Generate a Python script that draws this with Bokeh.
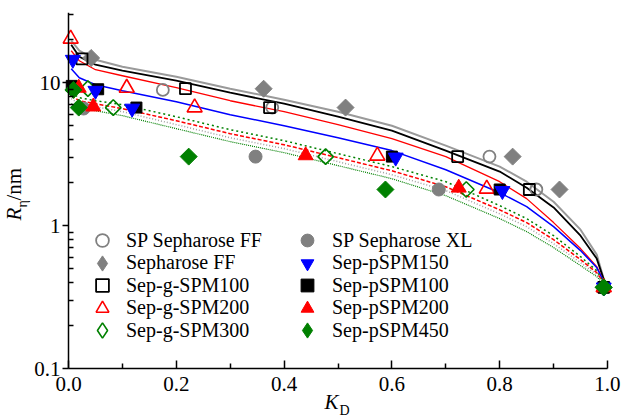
import math
from bokeh.plotting import figure
from bokeh.models import (Range1d, FixedTicker, NumeralTickFormatter, CustomJSTickFormatter,
                          Legend, LegendItem, Label)
from bokeh.embed import file_html
from bokeh.resources import INLINE

# ---------------- data ----------------
KD_SP_FF = [0.175, 0.378, 0.781, 0.868, 0.993]
R_SP_FF = [8.9, 6.7, 3.04, 1.79, 0.37]

KD_SEPH_FF = [0.042, 0.362, 0.514, 0.824, 0.911, 0.993]
R_SEPH_FF = [14.9, 9.08, 6.7, 3.04, 1.79, 0.37]

KD_G100 = [0.025, 0.217, 0.373, 0.722, 0.855, 0.993]
R_G100 = [14.7, 9.08, 6.7, 3.04, 1.79, 0.37]

KD_G200 = [0.004, 0.108, 0.234, 0.573, 0.776, 0.993]
R_G200 = [20.3, 9.2, 6.7, 3.08, 1.81, 0.37]

KD_G300 = [0.036, 0.083, 0.477, 0.738, 0.993]
R_G300 = [9.1, 6.7, 3.04, 1.79, 0.37]

KD_XL = [0.028, 0.347, 0.687, 0.993]
R_XL = [6.6, 3.04, 1.79, 0.37]

KD_P150 = [0.008, 0.05, 0.118, 0.607, 0.805, 0.993]
R_P150 = [14.5, 8.8, 6.6, 3.0, 1.75, 0.37]

KD_P100 = [0.006, 0.055, 0.126, 0.6, 0.8, 0.993]
R_P100 = [9.5, 9.0, 6.7, 3.04, 1.79, 0.37]

KD_P200 = [0.019, 0.046, 0.44, 0.724, 0.993]
R_P200 = [9.2, 6.8, 3.1, 1.84, 0.37]

KD_P450 = [0.009, 0.019, 0.223, 0.588, 0.993]
R_P450 = [8.9, 6.7, 3.04, 1.79, 0.37]

# fitted curves
K_FIT = [0.005, 0.02, 0.05, 0.1, 0.2, 0.3, 0.4, 0.5, 0.6, 0.7, 0.8, 0.85, 0.9, 0.95, 0.98, 0.995]
FIT_GRAY = [19.67, 16.74, 14.48, 12.94, 11.02, 9.08, 7.61, 6.27, 5.00, 3.63, 2.59, 2.03, 1.47, 0.937, 0.627, 0.399]
FIT_BLACK = [18.44, 15.20, 13.36, 12.14, 10.33, 8.51, 7.13, 5.78, 4.62, 3.35, 2.39, 1.84, 1.34, 0.851, 0.588, 0.399]
FIT_RED = [16.74, 14.25, 12.33, 11.19, 9.23, 7.48, 6.27, 5.09, 4.06, 3.04, 2.03, 1.545, 1.05, 0.691, 0.517, 0.393]
FIT_BLUE = [12.53, 10.84, 9.68, 8.79, 7.36, 5.97, 5.00, 4.12, 3.35, 2.46, 1.70, 1.36, 0.984, 0.669, 0.509, 0.393]
FIT_GREEN_TOP = [8.51, 7.86, 7.48, 7.02, 5.78, 4.69, 3.93, 3.19, 2.59, 2.03, 1.38, 1.12, 0.851, 0.607, 0.484, 0.387]
FIT_RED_DASH = [8.11, 7.48, 7.13, 6.58, 5.42, 4.40, 3.68, 2.99, 2.42, 1.87, 1.29, 1.05, 0.798, 0.578, 0.469, 0.387]
FIT_GRAY_DOT = [7.73, 7.13, 6.79, 6.27, 5.09, 4.12, 3.46, 2.80, 2.27, 1.76, 1.21, 0.984, 0.748, 0.551, 0.454, 0.387]
FIT_GREEN_BOT = [7.13, 6.69, 6.37, 5.88, 4.77, 3.87, 3.24, 2.63, 2.13, 1.62, 1.12, 0.908, 0.702, 0.525, 0.440, 0.380]

X_TICKS = [0.0, 0.2, 0.4, 0.6, 0.8, 1.0]
X_MINOR = [0.1, 0.3, 0.5, 0.7, 0.9]
Y_TICKS = [0.1, 1, 10]
Y_MINOR = [0.2, 0.3, 0.4, 0.5, 0.6, 0.7, 0.8, 0.9, 2, 3, 4, 5, 6, 7, 8, 9, 20, 30]
X_AXIS_RANGE = (0.0, 1.0)
Y_AXIS_RANGE = (0.1, 31)

LEGEND_COL1 = ["SP Sepharose FF", "Sepharose FF", "Sep-g-SPM100", "Sep-g-SPM200", "Sep-g-SPM300"]
LEGEND_COL2 = ["SP Sepharose XL", "Sep-pSPM150", "Sep-pSPM100", "Sep-pSPM200", "Sep-pSPM450"]

FONT = "Liberation Serif"
GRAY = "#808080"
RED = "#ff0000"
BLUE = "#0000ff"
GREEN = "#008000"
BLACK = "#000000"
NAN = float("nan")

# The frame fills the canvas; the axes are drawn at fixed data locations
# (K_D = 0 and R = 0.1) so the axis titles can be composed inside the frame.
p = figure(width=623, height=419, x_range=Range1d(-0.1262, 1.0297), y_range=Range1d(0.0440, 31),
           y_axis_type="log", output_backend="svg", toolbar_location=None,
           min_border_left=0, min_border_right=0, min_border_top=12, min_border_bottom=0)
p.outline_line_color = None
p.xgrid.visible = False
p.ygrid.visible = False
p.background_fill_color = "white"
p.border_fill_color = "white"

# axes
p.xaxis.fixed_location = Y_AXIS_RANGE[0]
p.xaxis.bounds = X_AXIS_RANGE
p.yaxis.fixed_location = X_AXIS_RANGE[0]
p.yaxis.bounds = Y_AXIS_RANGE
p.xaxis.ticker = FixedTicker(ticks=X_TICKS, minor_ticks=X_MINOR)
p.xaxis.formatter = NumeralTickFormatter(format="0.0")
p.yaxis.ticker = FixedTicker(ticks=Y_TICKS, minor_ticks=Y_MINOR)
p.yaxis.formatter = CustomJSTickFormatter(code="return tick.toString()")
for ax in (p.xaxis, p.yaxis):
    ax.axis_line_width = 1.5
    ax.axis_line_color = "black"
    ax.major_tick_line_width = 1.5
    ax.minor_tick_line_width = 1.5
    ax.major_label_text_font = FONT
    ax.major_label_text_font_size = "21px"
    ax.major_label_text_color = "black"
p.xaxis.major_tick_in = 8
p.xaxis.major_tick_out = 0
p.xaxis.minor_tick_in = 5
p.xaxis.minor_tick_out = 0
p.xaxis.major_label_standoff = 8
p.yaxis.major_tick_in = 0
p.yaxis.major_tick_out = 6
p.yaxis.minor_tick_in = 5
p.yaxis.minor_tick_out = 0
p.yaxis.major_label_standoff = 2

# fitted curves
p.line(K_FIT, FIT_GRAY, line_color="#9a9a9a", line_width=2)
p.line(K_FIT, FIT_BLACK, line_color=BLACK, line_width=1.8)
p.line(K_FIT, FIT_RED, line_color=RED, line_width=1.3)
p.line(K_FIT, FIT_BLUE, line_color=BLUE, line_width=1.5)
p.line(K_FIT, FIT_GREEN_TOP, line_color=GREEN, line_width=1.5, line_dash="2 3")
p.line(K_FIT, FIT_RED_DASH, line_color=RED, line_width=1.5, line_dash="4 2")
p.line(K_FIT, FIT_GRAY_DOT, line_color="#a0a0a0", line_width=1.5, line_dash="1 2")
p.line(K_FIT, FIT_GREEN_BOT, line_color=GREEN, line_width=1.2, line_dash="1 1")

# markers
r_sp_ff = p.scatter(KD_SP_FF, R_SP_FF, marker="circle", size=12, fill_color=None,
                    line_color=GRAY, line_width=1.8)
r_seph = p.scatter(KD_SEPH_FF, R_SEPH_FF, marker="square", angle=math.pi / 4, size=12,
                   fill_color=GRAY, line_color=GRAY, line_width=1)
r_xl = p.scatter(KD_XL, R_XL, marker="circle", size=13, fill_color=GRAY, line_color=GRAY)
r_g100 = p.scatter(KD_G100, R_G100, marker="square", size=11, fill_color=None,
                   line_color=BLACK, line_width=1.8)
r_g200 = p.scatter(KD_G200, R_G200, marker="triangle", size=15, fill_color=None,
                   line_color=RED, line_width=1.6)
r_g300 = p.scatter(KD_G300, R_G300, marker="square", angle=math.pi / 4, size=11,
                   fill_color=None, line_color=GREEN, line_width=1.6)
r_p100 = p.scatter(KD_P100, R_P100, marker="square", size=11, fill_color=BLACK, line_color=BLACK)
r_p150 = p.scatter(KD_P150, R_P150, marker="inverted_triangle", size=15, fill_color=BLUE,
                   line_color=BLUE)
r_p200 = p.scatter(KD_P200, R_P200, marker="triangle", size=15, fill_color=RED, line_color=RED)
r_p450 = p.scatter(KD_P450, R_P450, marker="square", angle=math.pi / 4, size=12,
                   fill_color=GREEN, line_color=GREEN)

# legend-only glyphs for the diamond symbols (legends ignore marker angle)
lg_seph = p.scatter([NAN], [NAN], marker="diamond", size=12, fill_color=GRAY, line_color=GRAY)
lg_g300 = p.scatter([NAN], [NAN], marker="diamond", size=12, fill_color=None, line_color=GREEN,
                    line_width=1.6)
lg_p450 = p.scatter([NAN], [NAN], marker="diamond", size=12, fill_color=GREEN, line_color=GREEN)

col1 = [(r_sp_ff, 32), (lg_seph, 38), (r_g100, 32), (r_g200, 32), (lg_g300, 38)]
col2 = [(r_xl, 32), (r_p150, 32), (r_p100, 32), (r_p200, 32), (lg_p450, 38)]

ROW_CENTERS = [240, 262.5, 285, 307.5, 330]   # canvas rows of the legend
CANVAS_H = 419


def add_entry(label, renderer, glyph, glyph_cx, text_x, row_center):
    lg = Legend(items=[LegendItem(label=label, renderers=[renderer])],
                location=(glyph_cx - glyph / 2, CANVAS_H - (row_center + glyph / 2)),
                orientation="vertical",
                label_text_font=FONT, label_text_font_size="20px", label_text_color="black",
                glyph_width=glyph, glyph_height=glyph, spacing=0,
                label_standoff=int(text_x - (glyph_cx + glyph / 2)),
                padding=0, margin=0, border_line_color=None, background_fill_alpha=0)
    p.add_layout(lg)


for lab, (rend, g), rc in zip(LEGEND_COL1, col1, ROW_CENTERS):
    add_entry(lab, rend, g, 102, 126, rc)
for lab, (rend, g), rc in zip(LEGEND_COL2, col2, ROW_CENTERS):
    add_entry(lab, rend, g, 307, 332, rc)

# axis titles (italic symbol + subscript)
lab_kw = dict(x_units="screen", y_units="screen", text_font=FONT, text_color="black")
p.add_layout(Label(x=324, y=6, text="K", text_font_size="21px", text_font_style="italic", **lab_kw))
p.add_layout(Label(x=339, y=2, text="D", text_font_size="14px", **lab_kw))
p.add_layout(Label(x=25, y=199, text="R", angle=math.pi / 2, text_font_size="21px",
                   text_font_style="italic", **lab_kw))
p.add_layout(Label(x=29, y=212, text="η", angle=math.pi / 2, text_font_size="14px", **lab_kw))
p.add_layout(Label(x=25, y=219, text="/nm", angle=math.pi / 2, text_font_size="21px", **lab_kw))

open("out.html", "w").write(file_html(p, INLINE))
